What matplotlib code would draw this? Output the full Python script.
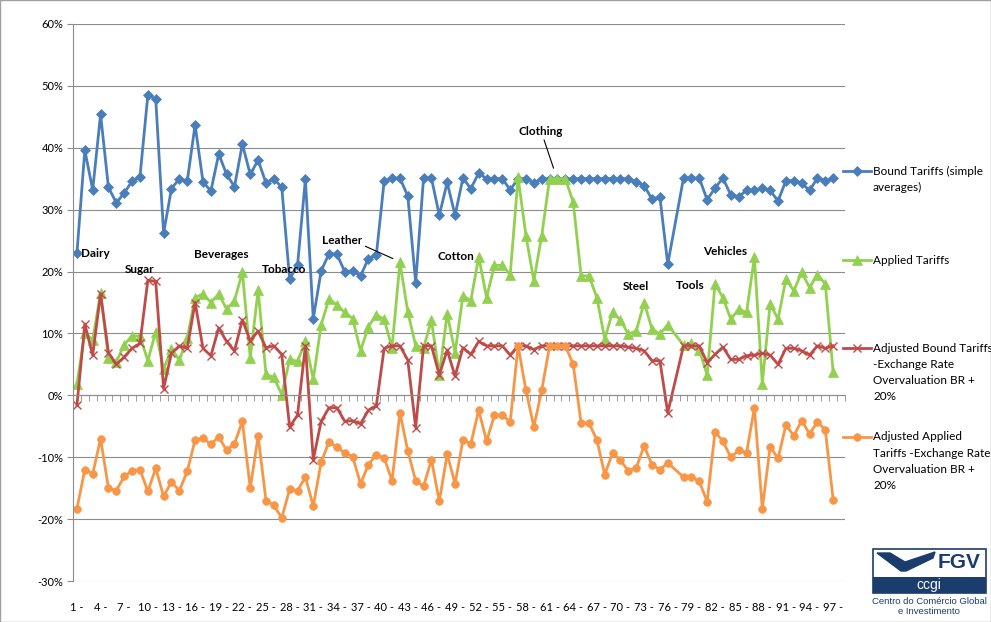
import numpy as np
import matplotlib
matplotlib.use("Agg")
import matplotlib.pyplot as plt
from matplotlib.ticker import FuncFormatter
from matplotlib.lines import Line2D
from matplotlib.patches import Rectangle, Polygon

plt.rcParams['font.family'] = ['Lato', 'DejaVu Sans']

nan = np.nan

# categories 1..97 (category 77 has no data, line is connected over it)
categories = np.arange(1, 98)

bound_tariffs = [
    23.0, 39.6, 33.2, 45.4, 33.6, 31.1, 32.7, 34.6, 35.3, 48.5,
    47.9, 26.2, 33.4, 35.0, 34.6, 43.7, 34.5, 33.0, 39.0, 35.7,
    33.7, 40.6, 35.7, 38.0, 34.3, 35.0, 33.6, 18.8, 21.0, 34.9,
    12.4, 20.1, 22.9, 22.8, 20.0, 20.1, 19.3, 22.1, 22.6, 34.6,
    35.1, 35.1, 32.2, 18.2, 35.1, 35.1, 29.1, 34.4, 29.1, 35.1,
    33.4, 35.9, 35.0, 35.0, 35.0, 33.2, 35.0, 35.0, 34.3, 35.0,
    35.0, 35.0, 35.0, 35.0, 35.0, 35.0, 35.0, 35.0, 35.0, 35.0,
    35.0, 34.5, 33.9, 31.7, 32.1, 21.2, nan, 35.1, 35.1, 35.1,
    31.6, 33.5, 35.1, 32.4, 32.1, 33.1, 33.1, 33.5, 33.1, 31.4,
    34.7, 34.7, 34.3, 33.1, 35.1, 34.7, 35.1]

applied_tariffs = [
    1.9, 10.0, 9.0, 16.5, 6.0, 5.4, 8.2, 9.6, 9.6, 5.6,
    10.3, 4.2, 7.5, 5.7, 9.2, 15.8, 16.4, 15.0, 16.4, 13.9,
    15.3, 19.9, 6.1, 17.0, 3.4, 2.9, 0.1, 5.8, 5.5, 8.7,
    2.6, 11.4, 15.6, 14.6, 13.4, 12.4, 7.2, 11.1, 13.0, 12.3,
    7.7, 21.5, 13.5, 8.0, 7.7, 12.1, 3.3, 13.2, 6.9, 16.1,
    15.3, 22.4, 15.8, 21.0, 21.0, 19.5, 35.2, 25.8, 18.5, 25.8,
    35.0, 35.0, 35.0, 31.2, 19.3, 19.3, 15.8, 9.1, 13.5, 12.1,
    9.9, 10.4, 15.0, 10.7, 9.9, 11.4, nan, 8.1, 8.5, 7.3,
    3.3, 18.0, 15.8, 12.3, 13.9, 13.4, 22.3, 1.9, 14.8, 12.3,
    18.8, 16.9, 19.9, 17.4, 19.5, 18.0, 3.7]

adj_bound = [
    -1.6, 11.5, 6.5, 16.4, 6.9, 5.0, 6.2, 7.6, 8.4, 18.6,
    18.4, 1.1, 6.8, 8.0, 7.6, 15.0, 7.6, 6.4, 10.9, 8.7,
    7.2, 12.2, 8.8, 10.4, 7.7, 8.0, 6.6, -5.1, -3.2, 8.0,
    -10.4, -4.2, -2.0, -2.0, -4.2, -4.1, -4.6, -2.4, -1.7, 7.6,
    8.0, 8.0, 5.7, -5.2, 8.0, 8.0, 3.3, 7.3, 3.1, 7.7,
    6.6, 8.7, 8.0, 8.0, 8.0, 6.5, 8.0, 8.0, 7.4, 8.0,
    8.0, 8.0, 8.0, 8.0, 8.0, 8.0, 8.0, 8.0, 8.0, 8.0,
    7.8, 7.6, 7.2, 5.6, 5.6, -2.8, nan, 8.0, 8.0, 8.0,
    5.3, 6.6, 7.8, 5.8, 5.8, 6.4, 6.5, 6.8, 6.5, 5.0,
    7.6, 7.6, 7.2, 6.5, 8.0, 7.6, 8.0]

adj_applied = [
    -18.3, -12.0, -12.7, -7.0, -15.0, -15.4, -13.1, -12.2, -12.0, -15.5,
    -11.8, -16.3, -14.0, -15.4, -12.3, -7.2, -6.9, -7.9, -6.7, -8.9,
    -7.8, -4.2, -15.0, -6.6, -17.0, -17.8, -19.8, -15.2, -15.4, -13.2,
    -17.9, -10.8, -7.5, -8.4, -9.3, -9.9, -14.3, -11.2, -9.6, -10.1,
    -13.8, -2.8, -9.0, -13.8, -14.7, -10.4, -17.1, -9.5, -14.3, -7.2,
    -7.8, -2.4, -7.4, -3.2, -3.2, -4.3, 8.0, 0.8, -5.1, 0.8,
    8.0, 8.0, 8.0, 5.0, -4.5, -4.5, -7.2, -12.8, -9.3, -10.5,
    -12.2, -11.7, -8.2, -11.2, -12.0, -10.9, nan, -13.2, -13.2, -13.9,
    -17.2, -5.9, -7.4, -10.0, -8.9, -9.3, -2.0, -18.3, -8.3, -10.2,
    -4.8, -6.5, -4.1, -6.2, -4.3, -5.6, -16.9]

series_names = ["Bound Tariffs (simple\naverages)",
                "Applied Tariffs",
                "Adjusted Bound Tariffs\n-Exchange Rate\nOvervaluation BR +\n20%",
                "Adjusted Applied\nTariffs -Exchange Rate\nOvervaluation BR +\n20%"]

# sector labels: (text, x category, y value)
sector_labels = [("Dairy", 3.3, 22.9), ("Sugar", 9.0, 20.4), ("Beverages", 19.3, 22.8),
                 ("Tobacco", 27.3, 20.4), ("Cotton", 49.1, 22.5),
                 ("Steel", 71.9, 17.6), ("Tools", 78.9, 17.8), ("Vehicles", 83.3, 23.3)]

tick_cats = categories[::3]
tick_labels = ["%d -" % c for c in tick_cats]

colors = ["#4A7EBB", "#92D050", "#BE4B48", "#F79646"]
markers = [("D", 5.5, 0.5), ("^", 7, 0.5), ("x", 6, 1.0), ("o", 5.5, 0.5)]
all_series = [bound_tariffs, applied_tariffs, adj_bound, adj_applied]

W, H = 991, 622
fig = plt.figure(figsize=(W / 100, H / 100), dpi=100)
ax = fig.add_axes([73 / W, 1 - 581 / H, 772 / W, 557 / H])

for vals, col, (m, ms, mew) in zip(all_series, colors, markers):
    v = np.array(vals)
    ok = ~np.isnan(v)
    ax.plot(categories[ok], v[ok], color=col, lw=2.0, marker=m, markersize=ms,
            markeredgewidth=mew, markeredgecolor=col, markerfacecolor=col)

ax.set_xlim(0.5, 98.5)
ax.set_ylim(-30, 60)
ax.set_yticks(np.arange(-30, 61, 10))
ax.yaxis.set_major_formatter(FuncFormatter(lambda v, p: "%d%%" % v))
ax.yaxis.grid(True, color="#8C8C8C", lw=0.8)
ax.set_axisbelow(True)
ax.tick_params(axis="y", direction="out", length=4, color="#8C8C8C",
               labelsize=8, pad=3)

for s in ["top", "right"]:
    ax.spines[s].set_visible(False)
ax.spines["left"].set_color("#8C8C8C")
ax.spines["bottom"].set_position(("data", 0))
ax.spines["bottom"].set_color("#8C8C8C")
ax.set_xticks([])
ax.set_xticks(np.arange(0.5, 99, 1), minor=True)
ax.tick_params(axis="x", which="minor", direction="out", length=4, color="#8C8C8C")

secax = ax.secondary_xaxis("bottom")
secax.set_xticks(tick_cats, tick_labels)
secax.spines["bottom"].set_visible(False)
secax.tick_params(length=0, pad=15, labelsize=8)

# sector labels
for txt, x, y in sector_labels:
    ax.text(x, y, txt, ha="center", va="center", fontsize=8.5, fontweight="bold")
ax.annotate("Leather", xy=(41.1, 22.1), xytext=(34.7, 25.0), ha="center", va="center",
            fontsize=8.5, fontweight="bold",
            arrowprops=dict(arrowstyle="-", color="black", lw=0.8,
                            shrinkA=0, shrinkB=0, relpos=(1.0, 0.1)))
ax.annotate("Clothing", xy=(61.5, 36.7), xytext=(59.9, 42.6), ha="center", va="center",
            fontsize=8.5, fontweight="bold",
            arrowprops=dict(arrowstyle="-", color="black", lw=0.8,
                            shrinkA=0, shrinkB=0, relpos=(0.55, 0.0)))

# legend drawn by hand to match the layout
legend_y = [171, 260, 348, 437]
for name, col, (m, ms, mew), py in zip(series_names, colors, markers, legend_y):
    fy = 1 - py / H
    fig.add_artist(Line2D([843 / W, 871 / W], [fy, fy], color=col, lw=2.0,
                          transform=fig.transFigure))
    fig.add_artist(Line2D([857 / W], [fy], color=col, marker=m, markersize=ms,
                          markeredgewidth=mew, markeredgecolor=col,
                          transform=fig.transFigure))
    for k, line in enumerate(name.split("\n")):
        fig.text(873 / W, 1 - (py + k * 16.2) / H, line, fontsize=8.5,
                 va="center", ha="left")

# FGV / ccgi logo
navy = "#1B3D6E"
logo_font = ["Liberation Sans", "DejaVu Sans"]
fig.add_artist(Rectangle((873 / W, 1 - 593 / H), 113 / W, 44 / H, transform=fig.transFigure,
                         facecolor="white", edgecolor=navy, lw=1.2))
fig.add_artist(Rectangle((873 / W, 1 - 593 / H), 113 / W, 16 / H, transform=fig.transFigure,
                         facecolor=navy, edgecolor=navy, lw=0))
chev = [(877, 553), (890, 553), (905, 562), (935, 552), (933, 558), (906, 571), (901, 571)]
fig.add_artist(Polygon([(x / W, 1 - y / H) for x, y in chev], closed=True,
                       transform=fig.transFigure, facecolor=navy, edgecolor=navy))
fig.text(959 / W, 1 - 562 / H, "FGV", color=navy, fontsize=15, fontweight="bold",
         ha="center", va="center", family=logo_font)
fig.text(929 / W, 1 - 585 / H, "ccgi", color="white", fontsize=10,
         ha="center", va="center", family=logo_font)
fig.text(929 / W, 1 - 601 / H, "Centro do Comércio Global", color=navy, fontsize=6.8,
         ha="center", va="center", family=logo_font)
fig.text(929 / W, 1 - 611 / H, "e Investimento", color=navy, fontsize=6.8,
         ha="center", va="center", family=logo_font)

# thin frame around the picture
fig.add_artist(Rectangle((0, 0), 1, 1, transform=fig.transFigure, fill=False,
                         edgecolor="#A0A0A0", lw=1.0))

fig.savefig("out.png", dpi=100)
